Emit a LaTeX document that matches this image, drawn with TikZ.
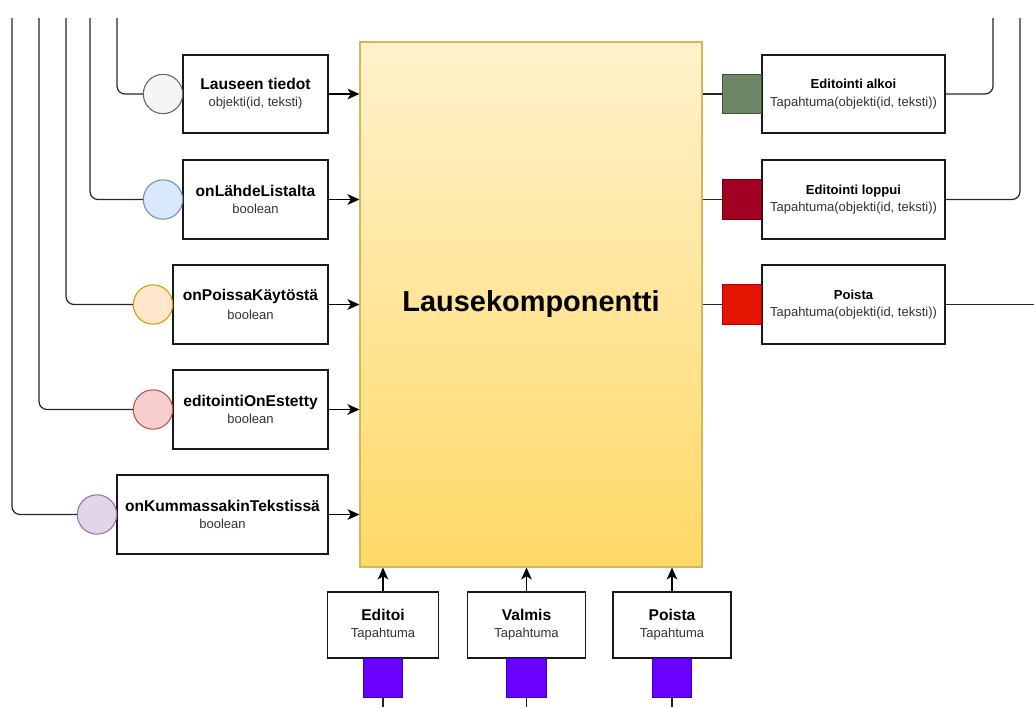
\documentclass[tikz,border=0pt]{standalone}
\usepackage{fontspec}
\setmainfont{Liberation Sans}
\usetikzlibrary{arrows.meta}
\definecolor{subtext}{HTML}{333333}
\definecolor{mainTop}{HTML}{FFF2CC}
\definecolor{mainBot}{HTML}{FFD966}
\definecolor{mainLine}{HTML}{D6B656}
\newcommand{\titl}[1]{{\fontsize{11.7}{14}\selectfont\bfseries #1}}
\newcommand{\subt}[1]{{\fontsize{9.75}{12}\selectfont\color{subtext}#1}}
\newcommand{\rtitl}[1]{{\fontsize{9.8}{12}\selectfont\bfseries #1}}
\begin{document}
\begin{tikzpicture}[x=0.75pt,y=-0.75pt,
  inbox/.style={draw=black!90, line width=0.8pt, fill=white, inner sep=0pt, align=center, minimum height=58.5pt},
  port/.style={circle, line width=0.8pt, inner sep=0pt, minimum size=29.5pt},
  sq/.style={rectangle, line width=0.8pt, inner sep=0pt, minimum size=29.5pt},
  wire/.style={draw=black!85, line width=0.9pt, rounded corners=6pt},
  arr/.style={draw=black, line width=0.9pt, -{Stealth[length=9pt,width=8pt,inset=2.5pt]}}
]
\useasboundingbox (0,0) rectangle (1034,707);

% central component
\node[draw=mainLine, line width=0.8pt, top color=mainTop, bottom color=mainBot,
      minimum width=256.5pt, minimum height=393.75pt, inner sep=0pt]
  (main) at (531,304.5) {\fontsize{21.7}{26}\selectfont\bfseries Lausekomponentti};

% inputs on the left
\node[inbox, minimum width=108.75pt] (l1) at (255.5,94)
  {\titl{Lauseen tiedot}\\[1pt]\subt{objekti(id, teksti)}};
\node[inbox, minimum width=108.75pt, minimum height=59.25pt] (l2) at (255.5,199.5)
  {\titl{onLähdeListalta}\\[1pt]\subt{boolean}};
\node[inbox, minimum width=116.25pt, minimum height=59.25pt] (l3) at (250.5,304.5)
  {\titl{onPoissaKäytöstä}\\[2pt]\subt{boolean}};
\node[inbox, minimum width=116.25pt, minimum height=59.25pt] (l4) at (250.5,409.5)
  {\titl{editointiOnEstetty}\\[1pt]\subt{boolean}};
\node[inbox, minimum width=158.25pt, minimum height=59.25pt] (l5) at (222.5,514.5)
  {\titl{onKummassakinTekstissä}\\[1pt]\subt{boolean}};

\node[port, fill=black!4, draw=black!60] (c1) at (163,94) {};
\node[port, fill={rgb,255:red,218;green,232;blue,252}, draw={rgb,255:red,108;green,142;blue,191}] (c2) at (163,199.5) {};
\node[port, fill={rgb,255:red,255;green,230;blue,204}, draw={rgb,255:red,215;green,155;blue,0}] (c3) at (153,304.5) {};
\node[port, fill={rgb,255:red,248;green,206;blue,204}, draw={rgb,255:red,184;green,84;blue,80}] (c4) at (153,409.5) {};
\node[port, fill={rgb,255:red,225;green,213;blue,231}, draw={rgb,255:red,150;green,115;blue,166}] (c5) at (97,514.5) {};

\coordinate (t1) at (117,18);
\coordinate (t2) at (90,18);
\coordinate (t3) at (66,18);
\coordinate (t4) at (39,18);
\coordinate (t5) at (12,18);

\foreach \i in {1,...,5} {
  \draw[wire] (t\i) |- (c\i.west);
  \draw[arr] (l\i.east) -- (l\i.east -| main.west);
}

% outputs on the right
\node[inbox, minimum width=137.25pt] (r1) at (853.5,94)
  {\rtitl{Editointi alkoi}\\[1pt]\subt{Tapahtuma(objekti(id, teksti))}};
\node[inbox, minimum width=137.25pt, minimum height=59.25pt] (r2) at (853.5,199.5)
  {\rtitl{Editointi loppui}\\[1pt]\subt{Tapahtuma(objekti(id, teksti))}};
\node[inbox, minimum width=137.25pt, minimum height=59.25pt] (r3) at (853.5,304.5)
  {\rtitl{Poista}\\[1pt]\subt{Tapahtuma(objekti(id, teksti))}};

\node[sq, fill={rgb,255:red,109;green,135;blue,100}, draw={rgb,255:red,58;green,84;blue,49}] (s1) at (742,94) {};
\node[sq, fill={rgb,255:red,162;green,0;blue,37}, draw={rgb,255:red,111;green,0;blue,0}] (s2) at (742,199.5) {};
\node[sq, fill={rgb,255:red,229;green,20;blue,0}, draw={rgb,255:red,178;green,0;blue,0}] (s3) at (742,304.5) {};

\foreach \i in {1,2,3} {
  \draw[wire] (s\i.west -| main.east) -- (s\i.west);
}
\coordinate (u1) at (993,18);
\coordinate (u2) at (1020,18);
\coordinate (u3) at (1034,304.5);
\draw[wire] (r1.east) -| (u1);
\draw[wire] (r2.east) -| (u2);
\draw[wire] (r3.east) -- (u3);

% event inputs at the bottom
\node[inbox, minimum width=83.25pt, minimum height=49.5pt] (b1) at (383,625)
  {\titl{Editoi}\\[1pt]\subt{Tapahtuma}};
\node[inbox, minimum width=88.5pt, minimum height=49.5pt] (b2) at (526.5,625)
  {\titl{Valmis}\\[1pt]\subt{Tapahtuma}};
\node[inbox, minimum width=88.5pt, minimum height=49.5pt] (b3) at (672,625)
  {\titl{Poista}\\[1pt]\subt{Tapahtuma}};

\node[sq, fill={rgb,255:red,106;green,0;blue,255}, draw={rgb,255:red,55;green,0;blue,204}] (p1) at (383,678) {};
\node[sq, fill={rgb,255:red,106;green,0;blue,255}, draw={rgb,255:red,55;green,0;blue,204}] (p2) at (526.5,678) {};
\node[sq, fill={rgb,255:red,106;green,0;blue,255}, draw={rgb,255:red,55;green,0;blue,204}] (p3) at (672,678) {};

\coordinate (d1) at (383,707);
\coordinate (d2) at (526.5,707);
\coordinate (d3) at (672,707);

\foreach \i in {1,2,3} {
  \draw[arr] (b\i.north) -- (b\i.north |- main.south);
  \draw[wire] (p\i.south) -- (d\i);
}
\end{tikzpicture}
\end{document}
